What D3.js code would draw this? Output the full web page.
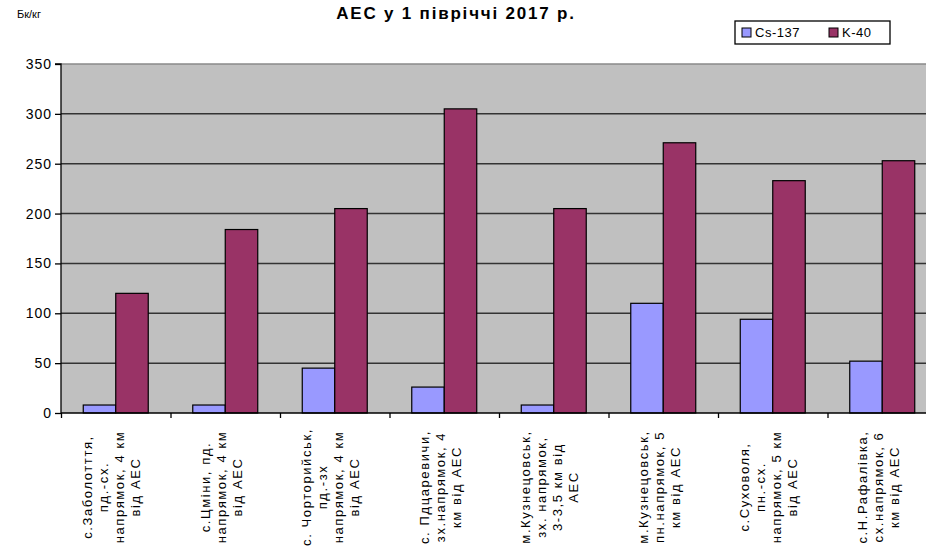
<!DOCTYPE html>
<html><head><meta charset="utf-8">
<script src="https://cdn.jsdelivr.net/npm/d3@7"></script>
<style>
html,body{margin:0;padding:0;background:#fff;overflow:hidden}
svg{display:block;font-family:"Liberation Sans",Arial,sans-serif}
</style></head>
<body>
<svg id="c" width="926" height="553"></svg>
<script>
const categories = [
  ["с.Заболотття,", "пд.-сх.", "напрямок, 4 км", "від АЕС"],
  ["с.Цміни, пд.", "напрямок, 4 км", "від АЕС"],
  ["с. Чорторийськ,", "пд.-зх", "напрямок, 4 км", "від АЕС"],
  ["с. Пдцаревичи,", "зх.напрямок, 4", "км від АЕС"],
  ["м.Кузнецовськ,", "зх. напрямок,", "3-3,5 км від", "АЕС"],
  ["м.Кузнецовськ,", "пн.напрямок, 5", "км від АЕС"],
  ["с.Суховоля,", "пн.-сх.", "напрямок, 5 км", "від АЕС"],
  ["с.Н.Рафалівка,", "сх.напрямок, 6", "км від АЕС"]
];
const seriesNames = ["Cs-137", "K-40"];
const cs137 = [8, 8, 45, 26, 8, 110, 94, 52];
const k40 = [120, 184, 205, 305, 205, 271, 233, 253];
const yTicks = [0, 50, 100, 150, 200, 250, 300, 350];
const colors = ["#9999FF", "#993366"];
const titleText = "АЕС у 1 півріччі 2017 р.";
const unitText = "Бк/кг";

const svg = d3.select("#c");
const L = 61, R = 937, T = 64, B = 413;
const idx = categories.map((d, i) => i);
const x = d3.scaleBand().domain(idx).range([L, R]).paddingInner(0).paddingOuter(0);
const xs = d3.scaleBand().domain(seriesNames).range([0, x.bandwidth()]).paddingInner(0).paddingOuter(0.685);
const y = d3.scaleLinear().domain([0, 350]).range([B, T]);

svg.append("rect").attr("x", L).attr("y", T).attr("width", R - L).attr("height", B - T).attr("fill", "#C0C0C0");

svg.append("g").selectAll("line").data(yTicks.filter(v => v > 0)).join("line")
  .attr("x1", L).attr("x2", R).attr("y1", d => y(d)).attr("y2", d => y(d))
  .attr("stroke", d => d === 350 ? "#8a8a8a" : "#333").attr("stroke-width", 1.5);

const data = [cs137, k40];
const g = svg.append("g");
idx.forEach(i => {
  seriesNames.forEach((s, j) => {
    const v = data[j][i];
    g.append("rect")
      .attr("x", x(i) + xs(s)).attr("width", xs.bandwidth())
      .attr("y", y(v)).attr("height", y(0) - y(v))
      .attr("fill", colors[j]).attr("stroke", "#000").attr("stroke-width", 1.2);
  });
});

const yAxis = d3.axisLeft(y).tickValues(yTicks).tickSize(6).tickPadding(3).tickFormat(d3.format("d"));
const ya = svg.append("g").attr("transform", `translate(${L},0)`).call(yAxis);
ya.select(".domain").attr("stroke", "#000").attr("stroke-width", 1.3).attr("d", `M-6,${T}H0V${B}`);
ya.selectAll(".tick line").attr("stroke", "#000").attr("stroke-width", 1.3);
ya.selectAll(".tick text").attr("font-size", 14).attr("letter-spacing", "1px").attr("fill", "#000")
  .attr("font-family", "'Liberation Sans',Arial,sans-serif");

const xAxis = d3.axisBottom(d3.scaleLinear().domain([0, categories.length]).range([L, R]))
  .tickValues(d3.range(0, categories.length + 1)).tickSize(5).tickFormat("");
const xa = svg.append("g").attr("transform", `translate(0,${B})`).call(xAxis);
xa.select(".domain").attr("stroke", "#000").attr("stroke-width", 1.3).attr("d", `M${L},0H${R}`);
xa.selectAll(".tick line").attr("stroke", "#000").attr("stroke-width", 1.3);

const lh = 16;
const lab = svg.append("g").attr("font-size", 13).attr("letter-spacing", "1.6px").attr("fill", "#000");
categories.forEach((lines, i) => {
  const cx = x(i) + x.bandwidth() / 2 - 4;
  const t = lab.append("g").attr("transform", `translate(${cx},487) rotate(-90)`);
  lines.forEach((ln, k) => {
    t.append("text").attr("x", 0).attr("y", (k - (lines.length - 1) / 2) * lh)
      .attr("dy", "0.35em").attr("text-anchor", "middle").text(ln);
  });
});

svg.append("text").attr("x", 456).attr("y", 19).attr("text-anchor", "middle")
  .attr("font-size", 17).attr("font-weight", "bold").attr("letter-spacing", "1.8px").text(titleText);
svg.append("text").attr("x", 17).attr("y", 18).attr("font-size", 11).text(unitText);

const lg = svg.append("g");
lg.append("rect").attr("x", 735).attr("y", 21).attr("width", 155).attr("height", 23)
  .attr("fill", "#fff").attr("stroke", "#000").attr("stroke-width", 1.3);
const legX = [742, 829];
seriesNames.forEach((s, j) => {
  lg.append("rect").attr("x", legX[j]).attr("y", 28).attr("width", 9).attr("height", 9)
    .attr("fill", colors[j]).attr("stroke", "#000").attr("stroke-width", 1);
  lg.append("text").attr("x", legX[j] + 13).attr("y", 37).attr("font-size", 13)
    .attr("letter-spacing", "0.5px").text(s);
});
</script>
</body></html>
